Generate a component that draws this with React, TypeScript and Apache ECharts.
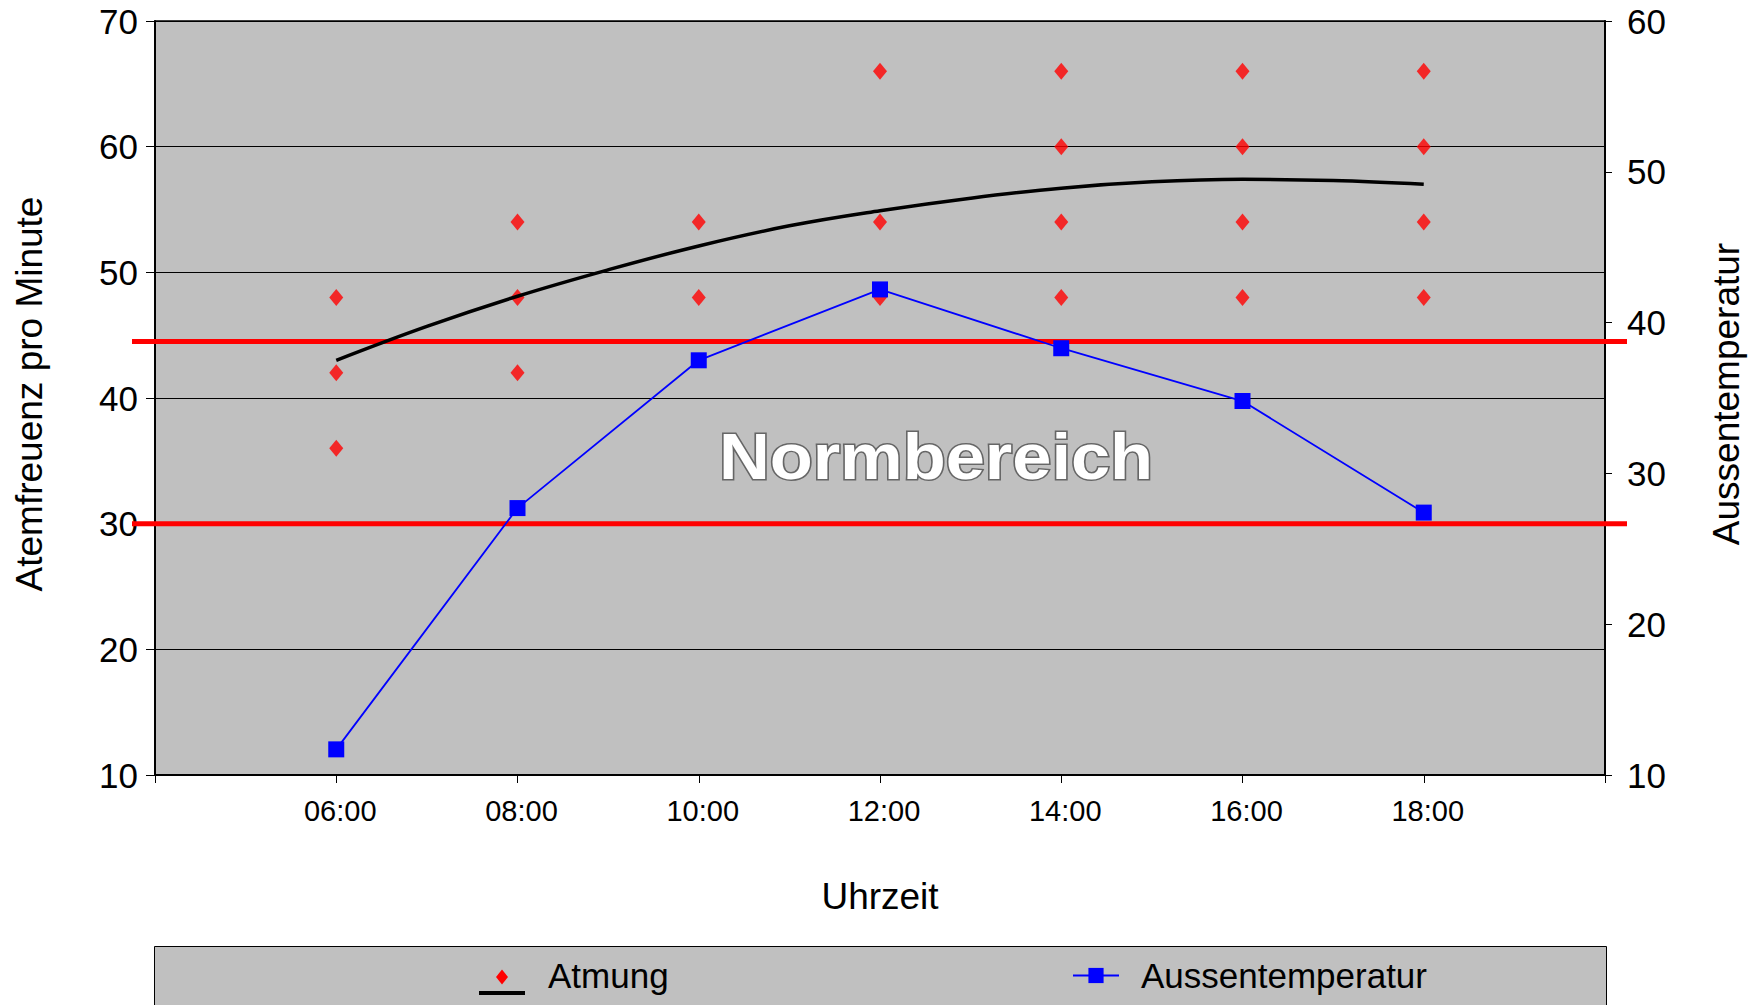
import React, { useEffect, useRef } from "react";
import * as echarts from "echarts";

// ---- data ----
const atmungHours = [6, 6, 6, 8, 8, 8, 10, 10, 12, 12, 12, 14, 14, 14, 14, 16, 16, 16, 16, 18, 18, 18, 18];
const atmungValues = [48, 42, 36, 54, 48, 42, 54, 48, 66, 54, 48, 66, 60, 54, 48, 66, 60, 54, 48, 66, 60, 54, 48];

const trendHours = [6, 7, 8, 9, 10, 11, 12, 13, 14, 15, 16, 17, 18];
const trendValues = [43.0, 45.7, 48.1, 50.2, 52.1, 53.7, 54.9, 55.9, 56.7, 57.2, 57.4, 57.3, 57.0];

const tempHours = [6, 8, 10, 12, 14, 16, 18];
const tempValues = [11.7, 27.7, 37.5, 42.2, 38.3, 34.8, 27.4];

const normRange = [30, 44.5];
const normLabel = "Normbereich";

const xMin = 4;
const xMax = 20;
const xStep = 2;

const FONT = "'Liberation Sans', Arial, sans-serif";

const pad2 = (n: number) => (n < 10 ? "0" + n : "" + n);

export default function App() {
  const ref = useRef<HTMLDivElement>(null);

  useEffect(() => {
    if (!ref.current) return;
    const chart = echarts.init(ref.current, null, { renderer: "svg" });

    const legendTop = 958;
    const atmLegendLeft = 479;
    const tempLegendLeft = 1072;

    const option: any = {
      animation: false,
      backgroundColor: "#ffffff",
      grid: {
        left: 155,
        right: 155,
        top: 21,
        bottom: 230,
        show: true,
        backgroundColor: "#C0C0C0",
        borderColor: "#000000",
        borderWidth: 1.5,
      },
      xAxis: {
        type: "value",
        min: xMin,
        max: xMax,
        interval: xStep,
        axisLine: { show: true, lineStyle: { color: "#000", width: 2 } },
        axisTick: { show: true, length: 8, lineStyle: { color: "#000", width: 1 } },
        splitLine: { show: false },
        axisLabel: {
          fontFamily: FONT,
          fontSize: 29,
          color: "#000",
          margin: 21,
          padding: [0, 0, 0, 8],
          formatter: (v: number) => (v === xMin || v === xMax ? "" : pad2(v) + ":00"),
        },
      },
      yAxis: [
        {
          type: "value",
          min: 10,
          max: 70,
          interval: 10,
          position: "left",
          axisLine: { show: true, lineStyle: { color: "#000", width: 2 } },
          axisTick: { show: true, length: 9, lineStyle: { color: "#000", width: 1 } },
          splitLine: { show: true, lineStyle: { color: "#000", width: 1 } },
          axisLabel: { fontFamily: FONT, fontSize: 35, color: "#000", margin: 17 },
        },
        {
          type: "value",
          min: 10,
          max: 60,
          interval: 10,
          position: "right",
          axisLine: { show: true, lineStyle: { color: "#000", width: 2 } },
          axisTick: { show: true, length: 7, lineStyle: { color: "#000", width: 1 } },
          splitLine: { show: false },
          axisLabel: { fontFamily: FONT, fontSize: 35, color: "#000", margin: 22 },
        },
      ],
      legend: [
        {
          data: [{ name: "Atmung", icon: "none" }],
          left: atmLegendLeft,
          top: legendTop,
          padding: 0,
          itemWidth: 64,
          itemHeight: 15,
          selectedMode: false,
          textStyle: { fontFamily: FONT, fontSize: 35, color: "#000" },
        },
        {
          data: [{ name: "Aussentemperatur" }],
          left: tempLegendLeft,
          top: legendTop,
          padding: 0,
          itemWidth: 46,
          itemHeight: 19,
          selectedMode: false,
          textStyle: { fontFamily: FONT, fontSize: 35, color: "#000", padding: [0, 0, 0, 17] },
        },
      ],
      series: [
        {
          name: "Atmung",
          type: "scatter",
          yAxisIndex: 0,
          symbol: "diamond",
          symbolSize: [14, 17],
          itemStyle: { color: "#FF0000" },
          data: atmungHours.map((h, i) => [h, atmungValues[i]]),
          z: 3,
        },
        {
          name: "Trend Atmung",
          type: "line",
          yAxisIndex: 0,
          symbol: "none",
          smooth: 0.4,
          lineStyle: { color: "#000", width: 3.5 },
          data: trendHours.map((h, i) => [h, trendValues[i]]),
          z: 4,
        },
        {
          name: "Aussentemperatur",
          type: "line",
          yAxisIndex: 1,
          symbol: "rect",
          symbolSize: 16,
          itemStyle: { color: "#0000FF" },
          lineStyle: { color: "#0000FF", width: 1.8 },
          data: tempHours.map((h, i) => [h, tempValues[i]]),
          z: 5,
        },
      ],
    };

    chart.setOption(option);

    const xl = chart.convertToPixel({ xAxisIndex: 0 }, xMin) as number;
    const xr = chart.convertToPixel({ xAxisIndex: 0 }, xMax) as number;
    const yBot = chart.convertToPixel({ yAxisIndex: 0 }, 10) as number;

    const normLines = normRange.map((v) => {
      const y = chart.convertToPixel({ yAxisIndex: 0 }, v) as number;
      return {
        type: "line",
        z: 2,
        shape: { x1: xl - 23, y1: y, x2: xr + 22, y2: y },
        style: { stroke: "#FF0000", lineWidth: 5 },
        silent: true,
      };
    });

    const normCenterY =
      ((chart.convertToPixel({ yAxisIndex: 0 }, normRange[0]) as number) +
        (chart.convertToPixel({ yAxisIndex: 0 }, normRange[1]) as number)) /
        2 +
      24;

    const titleY = 394;
    const iconCx = atmLegendLeft + 23;
    const iconCy = 977;

    chart.setOption({
      graphic: [
        ...normLines,
        {
          type: "text",
          z: 3,
          x: xl + 781,
          y: normCenterY,
          scaleX: 1.1,
          style: {
            text: normLabel,
            fontFamily: FONT,
            fontSize: 64,
            fontWeight: "bold",
            fill: "#FFFFFF",
            stroke: "#666666",
            lineWidth: 3,
            textAlign: "center",
            textVerticalAlign: "middle",
          },
          silent: true,
        },
        {
          type: "text",
          x: 29,
          y: titleY,
          rotation: Math.PI / 2,
          style: {
            text: "Atemfreuenz pro Minute",
            fontFamily: FONT,
            fontSize: 37,
            fill: "#000",
            textAlign: "center",
            textVerticalAlign: "middle",
          },
        },
        {
          type: "text",
          x: 1726,
          y: titleY,
          rotation: Math.PI / 2,
          style: {
            text: "Aussentemperatur",
            fontFamily: FONT,
            fontSize: 37,
            fill: "#000",
            textAlign: "center",
            textVerticalAlign: "middle",
          },
        },
        {
          type: "text",
          x: (xl + xr) / 2,
          y: yBot + 121,
          style: {
            text: "Uhrzeit",
            fontFamily: FONT,
            fontSize: 37,
            fill: "#000",
            textAlign: "center",
            textVerticalAlign: "middle",
          },
        },
        {
          type: "rect",
          z: -1,
          shape: { x: xl - 0.5, y: 946.5, width: xr - xl + 2, height: 80 },
          style: { fill: "#C0C0C0", stroke: "#000", lineWidth: 1 },
          silent: true,
        },
        {
          type: "polygon",
          z: 10,
          shape: {
            points: [
              [iconCx, iconCy - 7.5],
              [iconCx + 6, iconCy],
              [iconCx, iconCy + 7.5],
              [iconCx - 6, iconCy],
            ],
          },
          style: { fill: "#FF0000" },
          silent: true,
        },
        {
          type: "rect",
          z: 10,
          shape: { x: atmLegendLeft, y: 991, width: 46, height: 4 },
          style: { fill: "#000" },
          silent: true,
        },
      ],
    });

    return () => chart.dispose();
  }, []);

  return (
    <div
      ref={ref}
      style={{ position: "absolute", left: 0, top: 0, width: 1760, height: 1005 }}
    />
  );
}
